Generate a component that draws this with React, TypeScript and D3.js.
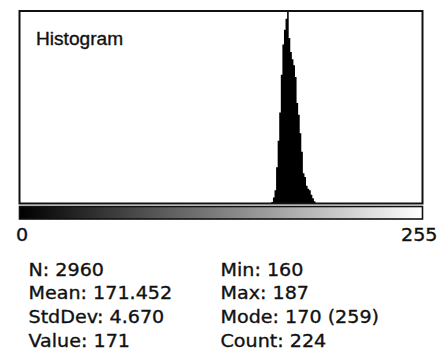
import React from "react";
import * as d3 from "d3";

const bins: number[] = [160, 161, 162, 163, 164, 165, 166, 167, 168, 169, 170, 171, 172, 173, 174, 175, 176, 177, 178, 179, 180, 181, 182, 183, 184, 185, 186, 187];
const counts: number[] = [2, 8, 18, 49, 85, 123, 174, 215, 235, 250, 259, 224, 205, 195, 187, 171, 136, 120, 95, 70, 41, 36, 24, 20, 18, 12, 7, 3];
const axisLabels: string[] = ["0", "255"];
const statsLeft: string[] = ["N: 2960", "Mean: 171.452", "StdDev: 4.670", "Value: 171"];
const statsRight: string[] = ["Min: 160", "Max: 187", "Mode: 170 (259)", "Count: 224"];

const SX = 1.045;

function T(props: { x: number; y: number; children: React.ReactNode; family?: string; anchor?: string; size?: number }) {
  const { x, y, children, family, anchor, size } = props;
  return (
    <text
      transform={`translate(${x},${y}) scale(${SX},1)`}
      fontFamily={family || "'DejaVu Sans', sans-serif"}
      fontSize={size || 18.3}
      fill="#111"
      stroke="#111"
      strokeWidth={0.35}
      textAnchor={anchor || "start"}
    >
      {children}
    </text>
  );
}

export default function App() {
  const W = 448, H = 352;
  const left = 19.5, right = 422.5, top = 11, bottom = 203.5;
  const x = d3.scaleLinear().domain([0, 256]).range([left, right]);
  const y = d3.scaleLinear().domain([0, d3.max(counts) as number]).range([bottom, top + 1]);
  const pts = bins.map((b, i) => ({ b, c: counts[i] }));
  pts.push({ b: bins[bins.length - 1] + 1, c: 0 });
  const area = d3
    .area<{ b: number; c: number }>()
    .x((d) => x(d.b))
    .y0(bottom)
    .y1((d) => y(d.c))
    .curve(d3.curveStepAfter);
  const barTop = 206.5, barBottom = 219;
  const rowY = (i: number) => 275.7 + i * 23.7;
  return (
    <svg width={W} height={H} style={{ position: "absolute", left: 0, top: 0, background: "#fff" }}>
      <defs>
        <linearGradient id="lut" x1="0" x2="1" y1="0" y2="0">
          <stop offset="0" stopColor="#000" />
          <stop offset="1" stopColor="#fff" />
        </linearGradient>
      </defs>
      <rect x={0} y={0} width={W} height={H} fill="#fff" />
      <path d={area(pts) || ""} fill="#000" />
      <rect x={left} y={top} width={right - left} height={bottom - top} fill="none" stroke="#111" strokeWidth={2} />
      <T x={36} y={45} family="'Liberation Sans', Arial, sans-serif" size={18.3}>Histogram</T>
      <rect x={left} y={barTop} width={right - left} height={barBottom - barTop} fill="url(#lut)" stroke="#111" strokeWidth={1.6} />
      <T x={16} y={241}>{axisLabels[0]}</T>
      <T x={437.5} y={241} anchor="end">{axisLabels[1]}</T>
      {statsLeft.map((s, i) => (
        <T key={s} x={28.5} y={rowY(i)}>{s}</T>
      ))}
      {statsRight.map((s, i) => (
        <T key={s} x={220.5} y={rowY(i)}>{s}</T>
      ))}
    </svg>
  );
}
